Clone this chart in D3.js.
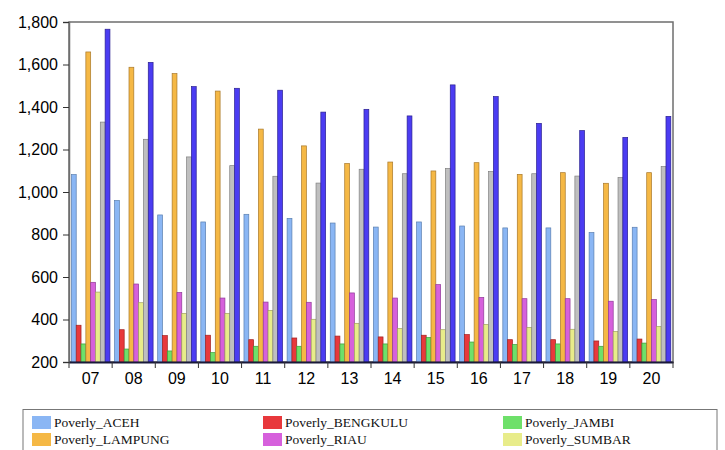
<!DOCTYPE html>
<html>
<head>
<meta charset="utf-8">
<script src="https://cdn.jsdelivr.net/npm/d3@7"></script>
<style>
  html, body { margin: 0; padding: 0; background: #fff; }
  svg { display: block; }
</style>
</head>
<body>
<svg id="chart" width="725" height="450"></svg>
<script>
const categories = ["07","08","09","10","11","12","13","14","15","16","17","18","19","20"];
const seriesNames = ["Poverly_ACEH","Poverly_BENGKULU","Poverly_JAMBI","Poverly_LAMPUNG","Poverly_RIAU","Poverly_SUMBAR","Poverly_SUMSEL","Poverly_SUMUT"];
const aceh     = [1082, 960, 892, 859, 895, 876, 854, 835, 859, 840, 831, 831, 809, 834];
const bengkulu = [373, 352, 324, 326, 305, 313, 322, 318, 326, 329, 305, 305, 299, 308];
const jambi    = [285, 261, 252, 244, 274, 274, 285, 285, 315, 294, 282, 285, 274, 289];
const lampung  = [1659, 1587, 1557, 1475, 1296, 1217, 1134, 1141, 1099, 1138, 1083, 1091, 1041, 1091];
const riau     = [575, 567, 527, 501, 482, 481, 525, 501, 564, 504, 498, 498, 486, 494];
const sumbar   = [529, 479, 429, 429, 443, 401, 382, 357, 352, 377, 363, 354, 343, 367];
const sumsel   = [1329, 1248, 1165, 1124, 1074, 1042, 1107, 1086, 1111, 1096, 1086, 1075, 1068, 1120];
const sumut    = [1766, 1610, 1496, 1488, 1479, 1376, 1389, 1358, 1504, 1449, 1323, 1289, 1257, 1356];
const yTicks   = [200, 400, 600, 800, 1000, 1200, 1400, 1600, 1800];
// the reference legend box is cut off by the picture's edge after its first two rows
const legendVisible = seriesNames.slice(0, 6);
const colors   = ["#8ab6f4","#e8383c","#6ee06a","#f5b845","#d660dc","#e8ec8a","#bfbfbf","#4b3cf2"];
const strokes  = ["#5a7fb0","#a02020","#3a9a3a","#a8782a","#913a98","#a0a060","#808080","#2a2090"];

const seriesValues = [aceh, bengkulu, jambi, lampung, riau, sumbar, sumsel, sumut];

const svg = d3.select("#chart");
svg.append("rect").attr("width", 725).attr("height", 450).attr("fill", "#fff");

const mLeft = 69, mRight = 673, mTop = 22, mBottom = 362;

const x = d3.scaleBand().domain(categories).range([mLeft, mRight]).paddingInner(0).paddingOuter(0);
const bw = x.bandwidth();
const xs = d3.scaleBand().domain(seriesNames).range([2.4, bw - 2.2]).padding(0);
const y = d3.scaleLinear().domain([200, 1800]).range([mBottom, mTop]);

// frame
svg.append("rect")
  .attr("x", mLeft).attr("y", mTop)
  .attr("width", mRight - mLeft).attr("height", mBottom - mTop)
  .attr("fill", "none").attr("stroke", "#6e6e6e").attr("stroke-width", 1.5);

// bars
const groups = svg.append("g").selectAll("g")
  .data(categories)
  .join("g")
  .attr("transform", d => `translate(${x(d)},0)`);

groups.selectAll("rect")
  .data((c, ci) => seriesNames.map((s, si) => ({ s, si, v: seriesValues[si][ci] })))
  .join("rect")
  .attr("x", d => xs(d.s))
  .attr("width", xs.bandwidth())
  .attr("y", d => y(d.v))
  .attr("height", d => y(200) - y(d.v))
  .attr("fill", d => colors[d.si])
  .attr("stroke", d => strokes[d.si])
  .attr("stroke-width", 0.7);

// y axis
const yAxis = d3.axisLeft(y).tickValues(yTicks).tickSize(6).tickFormat(d3.format(","));
const yg = svg.append("g").attr("transform", `translate(${mLeft},0)`).call(yAxis);
yg.select(".domain").attr("stroke", "#6e6e6e").attr("stroke-width", 1.5);
yg.selectAll(".tick line").attr("stroke", "#333");
yg.selectAll(".tick text")
  .attr("x", -11)
  .attr("fill", "#000")
  .style("font-family", "'Liberation Sans', Arial, sans-serif")
  .style("font-size", "16px");

// x axis
const xAxis = d3.axisBottom(x).tickSize(0).tickSizeOuter(0);
const xg = svg.append("g").attr("transform", `translate(0,${mBottom})`).call(xAxis);
xg.select(".domain").attr("stroke", "#1a1a3a").attr("stroke-width", 2);
xg.selectAll(".tick text")
  .attr("y", 11)
  .attr("fill", "#000")
  .style("font-family", "'Liberation Sans', Arial, sans-serif")
  .style("font-size", "16px");
// boundary ticks between categories
const boundaries = categories.map(c => x(c)).concat([mRight]);
xg.selectAll("line.bnd")
  .data(boundaries)
  .join("line")
  .attr("class", "bnd")
  .attr("x1", d => d).attr("x2", d => d)
  .attr("y1", 0).attr("y2", 6)
  .attr("stroke", "#333").attr("stroke-width", 1);

// legend
const legendG = svg.append("g");
legendG.append("rect")
  .attr("x", 23).attr("y", 409.5)
  .attr("width", 694).attr("height", 70)
  .attr("fill", "#fff").attr("stroke", "#777").attr("stroke-width", 1);

const colX = [32, 263, 503];
const rowY = [416, 433];
const items = legendG.selectAll("g.item")
  .data(legendVisible)
  .join("g")
  .attr("class", "item")
  .attr("transform", (d, i) => `translate(${colX[i % 3]},${rowY[Math.floor(i / 3)]})`);
items.append("rect")
  .attr("width", 19).attr("height", 13)
  .attr("fill", (d, i) => colors[i]);
items.append("text")
  .attr("x", 22).attr("y", 11)
  .attr("fill", "#111")
  .style("font-family", "'Liberation Serif', 'Times New Roman', serif")
  .style("font-size", "13.5px")
  .text(d => d);
</script>
</body>
</html>
